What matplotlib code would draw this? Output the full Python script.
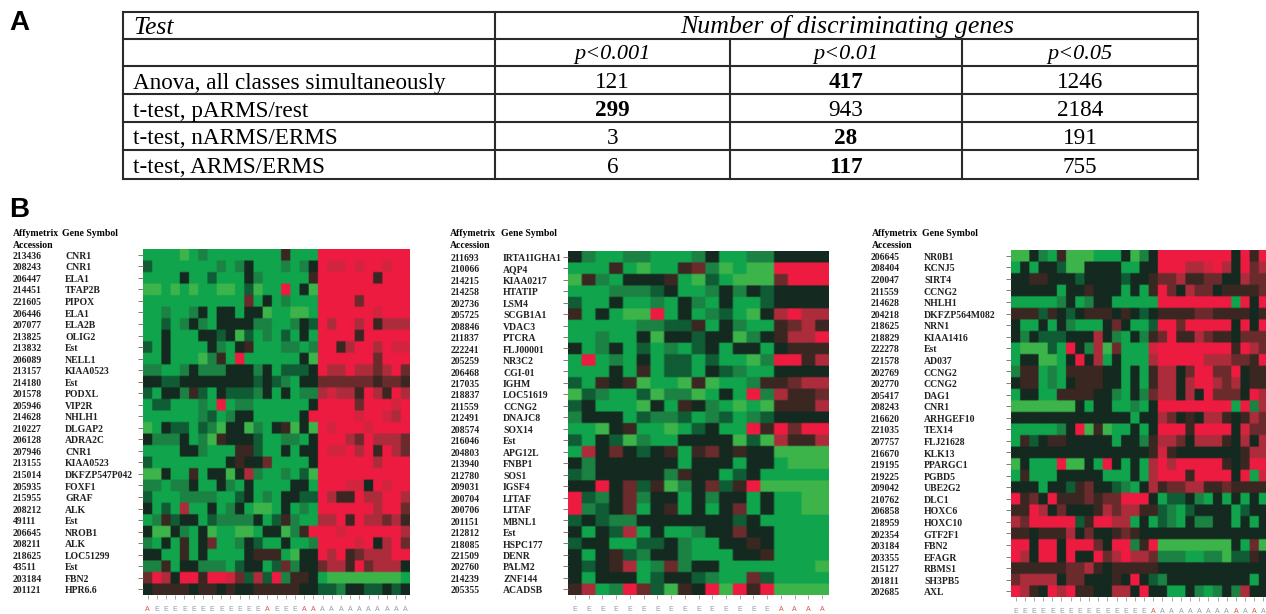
import numpy as np
import matplotlib
matplotlib.use("Agg")
import matplotlib.pyplot as plt
from matplotlib.colors import ListedColormap

# --- table (panel A) ---
test_names = ["Anova, all classes simultaneously", "t-test, pARMS/rest",
              "t-test, nARMS/ERMS", "t-test, ARMS/ERMS"]
p_labels = ["p<0.001", "p<0.01", "p<0.05"]
n_p001 = [121, 299, 3, 6]
n_p01 = [417, 943, 28, 117]
n_p05 = [1246, 2184, 191, 755]
bold_cells = [(0, 1), (1, 0), (2, 1), (3, 1)]

# --- heatmap left ---
acc_1 = ["213436", "208243", "206447", "214451", "221605", "206446", "207077", "213825",
         "213832", "206089", "213157", "214180", "201578", "205946", "214628", "210227",
         "206128", "207946", "213155", "215014", "205935", "215955", "208212", "49111",
         "206645", "208211", "218625", "43511", "203184", "201121"]
sym_1 = ["CNR1", "CNR1", "ELA1", "TFAP2B", "PIPOX", "ELA1", "ELA2B", "OLIG2", "Est", "NELL1",
         "KIAA0523", "Est", "PODXL", "VIP2R", "NHLH1", "DLGAP2", "ADRA2C", "CNR1", "KIAA0523",
         "DKFZP547P042", "FOXF1", "GRAF", "ALK", "Est", "NROB1", "ALK", "LOC51299", "Est",
         "FBN2", "HPR6.6"]
# digits: 0-1 green, 2-3 dark green, 4 black, 5-6 brown, 7-8 dim red, 9 red
cells_1 = [
    "11110 12111 11111 51119 99999 9999",
    "31111 11121 24111 21249 88989 9899",
    "11114 11311 14211 11159 99999 5999",
    "00101 01100 13011 91409 99999 9999",
    "11111 11111 16141 21119 99969 9999",
    "11211 24144 14401 10019 99999 8999",
    "11312 42144 44221 12439 79979 5777",
    "11411 14434 03121 31419 99959 9999",
    "31411 11421 45111 22129 95799 7988",
    "11411 10251 91111 11409 99999 6999",
    "22112 42224 44241 33349 77977 6796",
    "44334 44444 44343 21446 66666 5665",
    "31442 53143 33241 41227 87759 7597",
    "13311 12191 22111 11149 99969 9989",
    "11111 12312 44111 11499 99989 9879",
    "01433 13204 40214 50409 89998 9999",
    "42224 12054 44311 22149 99769 7776",
    "11114 42111 55311 41449 88979 5976",
    "31111 11114 54461 11149 99999 7999",
    "00411 51440 47211 21309 99999 9999",
    "22122 41142 14111 14419 99884 9899",
    "31112 22211 34121 44339 75597 7997",
    "41317 11412 41001 41219 99999 7996",
    "12534 41322 22413 52117 79597 7675",
    "40042 14011 00144 02599 98999 9997",
    "21415 14611 24311 41129 99989 4796",
    "44115 14111 14555 10449 79567 7799",
    "22514 42221 34413 62446 77596 7774",
    "69749 95998 63739 25541 00000 0001",
    "45555 45545 44555 55443 32443 3434",
]
classes_1 = "AEEEEEEEEEEEEAEEEAAAAAAAAAAAA"
red_1 = [0, 13, 17, 18]

# --- heatmap middle ---
acc_2 = ["211693", "210066", "214215", "214258", "202736", "205725", "208846", "211837",
         "222241", "205259", "206468", "217035", "218837", "211559", "212491", "208574",
         "216046", "204803", "213940", "212780", "209031", "200704", "200706", "201151",
         "212812", "218085", "221509", "202760", "214239", "205355"]
sym_2 = ["IRTA1IGHA1", "AQP4", "KIAA0217", "HTATIP", "LSM4", "SCGB1A1", "VDAC3", "PTCRA",
         "FLJ00001", "NR3C2", "CGI-01", "IGHM", "LOC51619", "CCNG2", "DNAJC8", "SOX14", "Est",
         "APG12L", "FNBP1", "SOS1", "IGSF4", "LITAF", "LITAF", "MBNL1", "Est", "HSPC177",
         "DENR", "PALM2", "ZNF144", "ACADSB"]
cells_2 = [
    "42112 21112 41122 4444",
    "11151 01156 20100 9999",
    "05214 44510 31000 6999",
    "11122 23411 24243 4444",
    "31141 12142 14113 4444",
    "51410 09141 23104 7977",
    "11111 22335 14211 5675",
    "11211 40443 44024 5779",
    "41241 31213 41441 4555",
    "19121 41331 31102 9957",
    "11141 51331 43211 4444",
    "31545 01105 01125 5677",
    "03211 30220 14192 7556",
    "34111 04154 21010 5557",
    "24441 32231 23123 4444",
    "11045 11013 41195 9699",
    "31430 21144 44030 7557",
    "17464 34515 64544 0000",
    "42444 44414 44144 1000",
    "32444 44254 41341 1111",
    "44946 35024 63590 0000",
    "93246 24414 24414 1100",
    "92346 14514 14614 1100",
    "34322 44444 44341 1111",
    "41437 14112 44644 1111",
    "34411 33421 14454 1111",
    "41453 24421 11445 1111",
    "43457 12624 41111 1110",
    "41444 13443 21163 1111",
    "57129 63054 90959 0000",
]
classes_2 = "EEEEEEEEEEEEEEEAAAA"
red_2 = [15, 16, 17, 18]

# --- heatmap right ---
acc_3 = ["206645", "208404", "220047", "211559", "214628", "204218", "218625", "218829",
         "222278", "221578", "202769", "202770", "205417", "208243", "216620", "221035",
         "207757", "216670", "219195", "219225", "209042", "210762", "206858", "218959",
         "202354", "203184", "203355", "215127", "201811", "202685"]
sym_3 = ["NR0B1", "KCNJ5", "SIRT4", "CCNG2", "NHLH1", "DKFZP564M082", "NRN1", "KIAA1416", "Est",
         "AD037", "CCNG2", "CCNG2", "DAG1", "CNR1", "ARHGEF10", "TEX14", "FLJ21628", "KLK13",
         "PPARGC1", "PGBD5", "UBE2G2", "DLC1", "HOXC6", "HOXC10", "GTF2F1", "FBN2", "EFAGR",
         "RBMS1", "SH3PB5", "AXL"]
cells_3 = [
    "00421 50001 11402 49999 99994 959",
    "14144 30044 44114 49997 78974 967",
    "44554 44344 44344 56675 56644 766",
    "44444 14454 44141 59647 66455 556",
    "11111 24124 41111 19999 99991 949",
    "55535 43455 54543 45555 66555 545",
    "41141 42111 46411 39969 99994 949",
    "42433 34447 42142 56955 76554 666",
    "10003 19427 06111 89999 99995 976",
    "14400 14947 14111 79999 97776 659",
    "25512 15555 44141 57746 99669 455",
    "45512 14555 44141 57747 99767 455",
    "14411 55554 42142 67747 49666 497",
    "00000 00414 41121 49999 99991 927",
    "44444 44444 44414 47645 47754 576",
    "11111 24905 01141 49995 99994 866",
    "15345 54444 41442 57764 77754 747",
    "44444 44444 44444 58544 44444 577",
    "04111 90041 94141 79799 99954 599",
    "15111 44444 11141 79995 99994 918",
    "44414 43564 43214 75667 75565 555",
    "95649 55565 66999 41334 21414 141",
    "55974 64445 76775 53213 44441 344",
    "76999 99359 97714 13214 22441 414",
    "55455 57464 45654 44444 44444 444",
    "99499 49996 49925 90000 00004 160",
    "97499 49449 67977 62221 12203 354",
    "55555 56675 45555 54444 44444 444",
    "67777 46644 45494 32444 44444 414",
    "97549 79554 47749 44114 21242 744",
]
classes_3 = "EEEEEEEEEEEEEEEAAAAAAAAAAAAA"
red_3 = [15, 24, 26]

level_colors = ["#3db44a", "#10a44c", "#1b8243", "#0f5c35", "#14291f",
                "#3b2722", "#6b2b2c", "#ad2c3c", "#d3243f", "#ee1b41"]
W, H = 1266, 614
SERIF = "Liberation Serif"
cmap = ListedColormap(level_colors)


def to_matrix(rows):
    return np.array([[int(c) for c in r.replace(" ", "")] for r in rows])


def add_heatmap(fig, box, cells, acc, sym, classes, red_idx, x_acc, x_sym):
    # box is left, top, right, bottom in pixels
    left, top, right, bottom = box
    ax = fig.add_axes([left / W, 1 - bottom / H, (right - left) / W, (bottom - top) / H])
    m = to_matrix(cells)
    nrow, ncol = m.shape
    # upsample so hanning only softens the cell edges, the scan is blurry
    fine = np.repeat(np.repeat(m, 5, axis=0), 5, axis=1)
    ax.imshow(fine, cmap=cmap, vmin=-0.5, vmax=9.5, aspect="auto", interpolation="hanning",
              interpolation_stage="rgba", extent=(-0.5, ncol - 0.5, nrow - 0.5, -0.5))
    for s in ax.spines.values():
        s.set_visible(False)
    ax.set_yticks(range(len(acc)))
    ax.set_yticklabels([])
    ax.set_xticks(range(len(classes)))
    ax.set_xticklabels(list(classes), fontsize=5, family="Liberation Sans")
    ax.tick_params(axis="y", length=3.6, width=0.7, color="#8a7a70")
    ax.tick_params(axis="x", length=2.8, width=0.6, color="#a09a90", pad=5)
    for i, lab in enumerate(ax.get_xticklabels()):
        lab.set_color("#d9534f" if i in red_idx else "#8f9aa8")
    for i in range(len(acc)):
        for x, txt in ((x_acc, acc[i]), (x_sym, sym[i])):
            ax.annotate(txt, xy=(x, i + 0.14), xycoords=("figure pixels", "data"), va="center",
                        ha="left", fontsize=7, family=SERIF, fontweight="bold", color="#222222",
                        annotation_clip=False)
    return ax


fig = plt.figure(figsize=(W / 100, H / 100), dpi=100, facecolor="white")
bg = fig.add_axes([0, 0, 1, 1])
bg.set_xlim(0, W)
bg.set_ylim(H, 0)
bg.axis("off")

bg.text(9, 23, "A", fontsize=20, fontweight="bold", family="Liberation Sans", va="center")
bg.text(9, 210, "B", fontsize=20, fontweight="bold", family="Liberation Sans", va="center")

# table grid
row_y = [12, 39, 66, 94, 122, 150, 179]
col_x = [123, 495, 730, 962, 1198]
line_kw = dict(color="#2a2a2a", lw=1.5)
for y in row_y:
    bg.plot([col_x[0], col_x[-1]], [y, y], **line_kw)
for x in (col_x[0], col_x[1], col_x[-1]):
    bg.plot([x, x], [row_y[0], row_y[-1]], **line_kw)
for x in col_x[2:4]:
    bg.plot([x, x], [row_y[1], row_y[-1]], **line_kw)

tfs = 16.7
bg.text(133, 28, "Test", fontsize=18.5, style="italic", family=SERIF, va="center")
bg.text(847, 26, "Number of discriminating genes", fontsize=18.6, style="italic", family=SERIF,
        va="center", ha="center")
col_cx = [(col_x[i + 1] + col_x[i + 2]) / 2 for i in range(3)]
for cx, p in zip(col_cx, p_labels):
    bg.text(cx, 55, p, fontsize=16, style="italic", family=SERIF, va="center", ha="center")
for r, name in enumerate(test_names):
    yc = (row_y[r + 2] + row_y[r + 3]) / 2 + 3
    bg.text(133, yc, name, fontsize=tfs, family=SERIF, va="center")
    for c, vals in enumerate((n_p001, n_p01, n_p05)):
        w = "bold" if (r, c) in bold_cells else "normal"
        bg.text(col_cx[c], yc, str(vals[r]), fontsize=tfs, family=SERIF, fontweight=w,
                va="center", ha="center")

# column headers over each gene list
for x_a, x_s in ((13, 62), (450, 501), (872, 922)):
    bg.text(x_a, 234, "Affymetrix", fontsize=7, fontweight="bold", family=SERIF, va="center")
    bg.text(x_a, 246, "Accession", fontsize=7, fontweight="bold", family=SERIF, va="center")
    bg.text(x_s, 234, "Gene Symbol", fontsize=7, fontweight="bold", family=SERIF, va="center")

add_heatmap(fig, (143, 249, 410, 595), cells_1, acc_1, sym_1, classes_1, red_1, 13, 65)
add_heatmap(fig, (568, 251, 829, 595), cells_2, acc_2, sym_2, classes_2, red_2, 451, 503)
add_heatmap(fig, (1011, 250, 1268, 597), cells_3, acc_3, sym_3, classes_3, red_3, 871, 924)

fig.savefig("out.png", dpi=100)
